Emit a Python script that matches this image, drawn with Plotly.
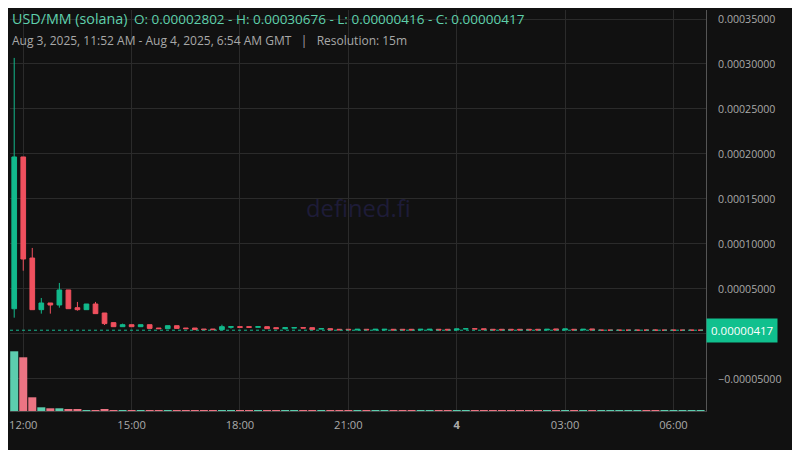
import pandas as pd
import plotly.graph_objects as go

# 15m candles, USD/MM (solana), Aug 3 11:45 -> Aug 4 06:45 (GMT)
times = pd.date_range("2025-08-03 11:45", periods=77, freq="15min")

opens = [2.802e-5, 1.967e-4, 8.44e-5, 2.70e-5, 3.44e-5, 3.22e-5, 4.89e-5, 2.92e-5, 2.70e-5, 3.33e-5,
         2.33e-5, 1.26e-5, 8.1e-6, 1.03e-5, 8.1e-6, 1.03e-5, 6.6e-6, 5.9e-6, 9.2e-6, 6.6e-6,
         6.6e-6, 5.5e-6, 5.5e-6, 4.8e-6, 7.4e-6, 8.1e-6, 8.1e-6, 7.4e-6, 8.1e-6, 7.0e-6,
         5.9e-6, 6.6e-6, 7.0e-6, 7.0e-6, 5.5e-6, 5.9e-6, 5.2e-6, 5.2e-6, 4.4e-6, 5.2e-6,
         4.4e-6, 4.4e-6, 5.2e-6, 5.2e-6, 5.2e-6, 4.4e-6, 4.4e-6, 5.2e-6, 5.2e-6, 4.4e-6,
         5.6e-6, 5.8e-6, 5.8e-6, 5.2e-6, 5.2e-6, 5.2e-6, 5.2e-6, 5.2e-6, 5.2e-6, 4.4e-6,
         5.6e-6, 4.4e-6, 5.2e-6, 4.4e-6, 5.6e-6, 4.2e-6, 4.2e-6, 4.2e-6, 4.2e-6, 4.2e-6,
         4.3e-6, 4.3e-6, 4.2e-6, 4.2e-6, 4.2e-6, 4.2e-6, 4.17e-6]
highs = [3.0676e-4, 1.967e-4, 9.56e-5, 4.00e-5, 3.44e-5, 5.67e-5, 4.89e-5, 3.56e-5, 3.33e-5, 3.56e-5,
         2.33e-5, 1.26e-5, 1.15e-5, 1.03e-5, 1.03e-5, 1.03e-5, 6.6e-6, 9.2e-6, 9.2e-6, 6.6e-6,
         6.6e-6, 5.5e-6, 5.5e-6, 1.03e-5, 8.1e-6, 8.1e-6, 8.1e-6, 8.1e-6, 8.1e-6, 7.0e-6,
         7.0e-6, 7.0e-6, 7.0e-6, 7.0e-6, 5.9e-6, 5.9e-6, 5.2e-6, 5.2e-6, 5.2e-6, 5.2e-6,
         5.2e-6, 5.2e-6, 5.2e-6, 5.2e-6, 5.2e-6, 5.2e-6, 5.2e-6, 5.2e-6, 5.2e-6, 5.8e-6,
         5.8e-6, 5.8e-6, 5.8e-6, 5.2e-6, 5.2e-6, 5.2e-6, 5.2e-6, 5.2e-6, 5.2e-6, 5.2e-6,
         5.6e-6, 5.6e-6, 5.2e-6, 5.2e-6, 5.6e-6, 4.2e-6, 4.2e-6, 4.2e-6, 4.2e-6, 4.2e-6,
         5.0e-6, 5.0e-6, 4.2e-6, 4.2e-6, 4.2e-6, 4.2e-6, 4.2e-6]
lows = [1.81e-5, 7.03e-5, 2.70e-5, 2.26e-5, 2.26e-5, 2.92e-5, 2.81e-5, 2.59e-5, 2.70e-5, 2.26e-5,
        1.00e-5, 8.1e-6, 8.1e-6, 8.1e-6, 8.1e-6, 6.2e-6, 5.9e-6, 5.9e-6, 6.2e-6, 5.9e-6,
        4.8e-6, 4.8e-6, 4.8e-6, 4.8e-6, 5.9e-6, 7.4e-6, 7.4e-6, 7.4e-6, 5.9e-6, 5.9e-6,
        4.8e-6, 6.6e-6, 6.6e-6, 4.8e-6, 5.5e-6, 4.4e-6, 4.6e-6, 4.6e-6, 4.4e-6, 4.6e-6,
        4.4e-6, 4.4e-6, 4.4e-6, 4.4e-6, 4.4e-6, 4.4e-6, 4.4e-6, 4.4e-6, 4.4e-6, 4.4e-6,
        5.6e-6, 5.6e-6, 4.8e-6, 4.4e-6, 4.4e-6, 4.4e-6, 4.4e-6, 4.4e-6, 4.4e-6, 4.4e-6,
        4.4e-6, 4.4e-6, 4.4e-6, 4.4e-6, 4.4e-6, 4.2e-6, 4.2e-6, 4.2e-6, 4.2e-6, 4.2e-6,
        4.16e-6, 4.2e-6, 4.2e-6, 4.2e-6, 4.2e-6, 4.2e-6, 4.16e-6]
closes = [1.967e-4, 8.33e-5, 2.70e-5, 3.44e-5, 3.22e-5, 4.89e-5, 2.81e-5, 2.70e-5, 3.33e-5, 2.26e-5,
          1.15e-5, 8.1e-6, 1.03e-5, 8.1e-6, 1.03e-5, 6.2e-6, 5.9e-6, 9.2e-6, 6.2e-6, 5.9e-6,
          4.8e-6, 4.8e-6, 4.8e-6, 8.1e-6, 8.1e-6, 7.4e-6, 7.4e-6, 8.1e-6, 5.9e-6, 5.9e-6,
          7.0e-6, 7.0e-6, 6.6e-6, 4.8e-6, 5.9e-6, 4.4e-6, 4.6e-6, 4.6e-6, 5.2e-6, 4.6e-6,
          5.2e-6, 5.2e-6, 4.4e-6, 4.4e-6, 4.4e-6, 5.2e-6, 5.2e-6, 4.4e-6, 4.4e-6, 5.6e-6,
          5.8e-6, 5.6e-6, 4.8e-6, 4.4e-6, 4.4e-6, 4.4e-6, 4.4e-6, 4.4e-6, 4.4e-6, 5.2e-6,
          4.4e-6, 5.6e-6, 4.4e-6, 5.2e-6, 4.4e-6, 4.2e-6, 4.2e-6, 4.2e-6, 4.2e-6, 4.2e-6,
          4.2e-6, 4.2e-6, 4.2e-6, 4.2e-6, 4.2e-6, 4.2e-6, 4.17e-6]
volumes = [5970, 5370, 1370, 370, 270, 270, 170, 170, 70, 70, 170] + [80] * 66

# the 0 tick sits under the last-price box, so its label is left blank
price_ticks = [-5e-5, 0, 5e-5, 1e-4, 1.5e-4, 2e-4, 2.5e-4, 3e-4, 3.5e-4]
price_labels = ["\u22120.00005000", "", "0.00005000", "0.00010000", "0.00015000",
                "0.00020000", "0.00025000", "0.00030000", "0.00035000"]
time_ticks = ["2025-08-03 12:00", "2025-08-03 15:00", "2025-08-03 18:00", "2025-08-03 21:00",
              "2025-08-04 00:00", "2025-08-04 03:00", "2025-08-04 06:00"]
time_labels = ["12:00", "15:00", "18:00", "21:00", "<b>4</b>", "03:00", "06:00"]

up = "#12b98c"
down = "#f0505e"
vol_colors = ["#5ccdae" if c >= o else "#eb7483" for o, c in zip(opens, closes)]

fig = go.Figure()
fig.add_trace(go.Candlestick(x=times, open=opens, high=highs, low=lows, close=closes,
                             increasing=dict(line=dict(color=up, width=1), fillcolor=up),
                             decreasing=dict(line=dict(color=down, width=1), fillcolor=down),
                             showlegend=False, hoverinfo="skip"))
fig.add_trace(go.Bar(x=times, y=volumes, marker_color=vol_colors, marker_line_width=0,
                     yaxis="y2", showlegend=False, hoverinfo="skip"))

last = closes[-1]
fig.add_shape(type="line", xref="paper", x0=0, x1=1, yref="y", y0=last, y1=last,
              line=dict(color="#17b890", width=1, dash="3px,3px"))

# header text
fig.add_annotation(text="USD/MM (solana)", xref="paper", yref="paper", x=0, y=0.978,
                   xanchor="left", yanchor="middle", showarrow=False,
                   font=dict(size=14.3, color="#5fd0ac"))
fig.add_annotation(text="O: 0.00002802 - H: 0.00030676 - L: 0.00000416 - C: 0.00000417",
                   xref="paper", yref="paper", x=0.1753, y=0.978, xanchor="left",
                   yanchor="middle", showarrow=False, font=dict(size=13.5, color="#5fd0ac"))
fig.add_annotation(text="Aug 3, 2025, 11:52 AM - Aug 4, 2025, 6:54 AM GMT   |   Resolution: 15m",
                   xref="paper", yref="paper", x=0, y=0.923, xanchor="left", yanchor="middle",
                   showarrow=False, font=dict(size=12, color="#a8a8a8"))
fig.add_annotation(text="defined.fi", xref="paper", yref="paper", x=0.5, y=0.506,
                   showarrow=False, font=dict(size=23.8, color="#1e1c38"))
fig.add_annotation(text="0.00000417", xref="paper", yref="y", x=1, y=last, xanchor="left",
                   yanchor="middle", showarrow=False, bgcolor="#10c08e", borderpad=4,
                   font=dict(size=11.5, color="#ffffff"))

# page body has an 8px margin, so the margins are offset to land the plot where the reference has it
fig.update_layout(
    width=800, height=450,
    margin=dict(l=2, r=102, t=2, b=47),
    paper_bgcolor="#111111", plot_bgcolor="#111111",
    font=dict(family="Open Sans", color="#aaaaaa"),
    boxgap=0.26, bargap=0.11,
    xaxis=dict(type="date", range=["2025-08-03 11:38", "2025-08-04 06:54"],
               tickvals=time_ticks, ticktext=time_labels, showgrid=True, gridcolor="#2b2b2b",
               showline=True, linecolor="#444444", ticks="", tickfont=dict(size=11.2),
               rangeslider=dict(visible=False), zeroline=False, ticklabelstandoff=4),
    yaxis=dict(side="right", range=[-8.56e-5, 3.6e-4], tickvals=price_ticks,
               ticktext=price_labels, showgrid=True, gridcolor="#2b2b2b", showline=True,
               linecolor="#555555", ticks="", zeroline=False, tickfont=dict(size=10.6),
               ticklabelstandoff=9),
    yaxis2=dict(overlaying="y", range=[0, 40100], visible=False, showgrid=False),
)

fig.write_html("out.html")
